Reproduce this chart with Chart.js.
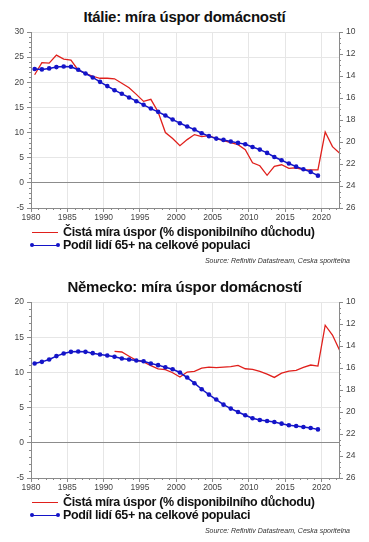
<!DOCTYPE html>
<html><head><meta charset="utf-8">
<script src="https://cdn.jsdelivr.net/npm/chart.js@4.4.1/dist/chart.umd.min.js"></script>
<style>
html,body{margin:0;padding:0;background:#fff;}
body{width:369px;height:542px;position:relative;overflow:hidden;font-family:"Liberation Sans",Arial,sans-serif;}
.panel{position:absolute;left:0;width:369px;height:271px;}
.title{position:absolute;left:0;width:369px;top:8px;text-align:center;font-weight:bold;font-size:15px;letter-spacing:-0.25px;line-height:18px;color:#111;}
.cv{position:absolute;left:0;top:0;}
.sw{position:absolute;left:32px;width:26px;height:0;}
.sw.red{border-top:1.5px solid #e0201c;}
.sw.blue{border-top:1.5px solid #1414c8;}
.dot{position:absolute;width:4px;height:4px;border-radius:50%;background:#1414c8;top:-3px;}
.lt{position:absolute;left:63px;font-weight:bold;font-size:12.5px;letter-spacing:-0.35px;line-height:15px;color:#111;white-space:nowrap;}
.src{position:absolute;right:19px;font-style:italic;font-size:7px;line-height:8px;color:#333;white-space:nowrap;}
</style>
</head><body>

<div class="panel" style="top:0">
  <div class="title">Itálie: míra úspor domácností</div>
  <canvas class="cv" id="c1" width="369" height="230"></canvas>
  <div class="sw red" style="top:232px"></div>
  <div class="lt" style="top:225px">Čistá míra úspor (% disponibilního důchodu)</div>
  <div class="sw blue" style="top:245px"><div class="dot" style="left:-2px"></div><div class="dot" style="left:24px"></div></div>
  <div class="lt" style="top:238px">Podíl lidí 65+ na celkové populaci</div>
  <div class="src" style="top:257px">Source: Refinitiv Datastream, Ceska sporitelna</div>
</div>

<div class="panel" style="top:270px">
  <div class="title">Německo: míra úspor domácností</div>
  <canvas class="cv" id="c2" width="369" height="230"></canvas>
  <div class="sw red" style="top:232px"></div>
  <div class="lt" style="top:225px">Čistá míra úspor (% disponibilního důchodu)</div>
  <div class="sw blue" style="top:245px"><div class="dot" style="left:-2px"></div><div class="dot" style="left:24px"></div></div>
  <div class="lt" style="top:238px">Podíl lidí 65+ na celkové populaci</div>
  <div class="src" style="top:257px">Source: Refinitiv Datastream, Ceska sporitelna</div>
</div>

<script>
// ---- data ----
const xTicks = [1980, 1985, 1990, 1995, 2000, 2005, 2010, 2015, 2020];
const rightTicks = [10, 12, 14, 16, 18, 20, 22, 24, 26];

// Italy: net household saving rate (% of disposable income), 1980-2022
const italySavingStart = 1980;
const italySaving = [21.5, 23.9, 23.8, 25.4, 24.6, 24.4, 22.4, 21.8, 21.2, 20.8,
  20.8, 20.7, 19.8, 18.9, 17.6, 16.2, 16.6, 14.1, 10.0, 8.8,
  7.4, 8.6, 9.6, 9.2, 9.4, 8.8, 8.4, 8.0, 7.6, 6.6,
  4.0, 3.4, 1.5, 3.3, 3.6, 2.9, 3.0, 2.6, 2.6, 2.6,
  10.1, 7.2, 5.9];
// Italy: share of population aged 65+ (%), 1980-2019
const italyOldStart = 1980;
const italyOld = [13.37, 13.40, 13.31, 13.19, 13.13, 13.16, 13.43, 13.77, 14.13, 14.53,
  14.92, 15.29, 15.62, 15.95, 16.29, 16.62, 16.96, 17.26, 17.59, 17.96,
  18.29, 18.59, 18.87, 19.20, 19.47, 19.69, 19.81, 19.96, 20.08, 20.20,
  20.45, 20.69, 20.99, 21.36, 21.66, 21.96, 22.24, 22.48, 22.72, 23.06];

// Germany: net household saving rate, 1991-2022
const germanySavingStart = 1991;
const germanySaving = [13.0, 12.9, 12.3, 11.7, 11.5, 10.95, 10.5, 10.4, 9.95,
  9.35, 10.05, 10.14, 10.6, 10.76, 10.67, 10.76, 10.81, 11.0, 10.52,
  10.43, 10.14, 9.76, 9.29, 9.9, 10.19, 10.29, 10.71, 11.05, 10.9,
  16.7, 15.3, 13.1];
// Germany: share of population aged 65+ (%), 1980-2019
const germanyOldStart = 1980;
const germanyOld = [15.59, 15.44, 15.23, 14.92, 14.68, 14.53, 14.50, 14.53, 14.65, 14.77,
  14.86, 14.98, 15.14, 15.23, 15.32, 15.38, 15.59, 15.74, 15.93, 16.11,
  16.41, 16.87, 17.38, 17.93, 18.42, 18.87, 19.33, 19.69, 20.00, 20.30,
  20.57, 20.73, 20.82, 20.91, 21.06, 21.21, 21.27, 21.36, 21.46, 21.58];

const seriesNames = ['Čistá míra úspor (% disponibilního důchodu)', 'Podíl lidí 65+ na celkové populaci'];

// annual values are plotted at mid-year
const MID = 0.5;
function toPoints(start, vals){ return vals.map((v,i)=>({x: start + i + MID, y: v})); }

const minorTicks = {
  id: 'minorTicks',
  afterDraw(chart){
    const ctx = chart.ctx, a = chart.chartArea;
    ctx.save();
    ctx.strokeStyle = '#8a8a8a';
    ctx.lineWidth = 1;
    ctx.beginPath();
    const sx = chart.scales.x;
    for (let v = Math.ceil(sx.min); v <= sx.max; v++) {
      if (v % 5 === 0) continue;
      const p = Math.round(sx.getPixelForValue(v)) + 0.5;
      ctx.moveTo(p, a.bottom); ctx.lineTo(p, a.bottom + 2);
    }
    const sy = chart.scales.y;
    for (let v = sy.min; v <= sy.max; v++) {
      if (v % 5 === 0) continue;
      const p = Math.round(sy.getPixelForValue(v)) + 0.5;
      ctx.moveTo(a.left - 2, p); ctx.lineTo(a.left, p);
    }
    const s2 = chart.scales.y2;
    for (let v = s2.min; v <= s2.max; v += 0.5) {
      if (v % 2 === 0) continue;
      const p = Math.round(s2.getPixelForValue(v)) + 0.5;
      ctx.moveTo(a.right, p); ctx.lineTo(a.right + 2, p);
    }
    ctx.stroke();
    ctx.restore();
  }
};

function makeChart(id, savStart, sav, oldStart, old, leftMin, leftMax){
  const tickFont = {family: '"Liberation Sans", Arial, sans-serif', size: 8.5};
  new Chart(document.getElementById(id), {
    type: 'line',
    data: {
      datasets: [
        {label: seriesNames[0], data: toPoints(savStart, sav), yAxisID: 'y',
         borderColor: '#e0201c', borderWidth: 1.3, pointRadius: 0, tension: 0, order: 2},
        {label: seriesNames[1], data: toPoints(oldStart, old), yAxisID: 'y2',
         borderColor: '#1414c8', borderWidth: 1.5, pointRadius: 2.3, pointBorderWidth: 0,
         pointBackgroundColor: '#1414c8', tension: 0, order: 1}
      ]
    },
    options: {
      responsive: false, animation: false,
      layout: {padding: {top: 32, left: 0, right: 0, bottom: 0}},
      plugins: {legend: {display: false}, tooltip: {enabled: false}, title: {display: false}},
      scales: {
        x: {
          type: 'linear', min: 1980, max: 2022.4,
          afterBuildTicks: s => { s.ticks = xTicks.map(v => ({value: v})); },
          afterFit: s => { s.height = 22; },
          ticks: {font: tickFont, color: '#444', maxRotation: 0, autoSkip: false, padding: 1,
                  callback: v => String(v)},
          grid: {color: '#e6e6e6', tickLength: 4, tickColor: '#8a8a8a'},
          border: {color: '#8a8a8a'}
        },
        y: {
          position: 'left', min: leftMin, max: leftMax,
          afterFit: s => { s.width = 31; },
          ticks: {stepSize: 5, font: tickFont, color: '#444', padding: 3},
          grid: {color: c => c.tick && c.tick.value === 0 ? '#8c8c8c' : '#e6e6e6',
                 tickLength: 4, tickColor: '#8a8a8a'},
          border: {color: '#8a8a8a'}
        },
        y2: {
          position: 'right', reverse: true, min: 10, max: 26,
          afterBuildTicks: s => { s.ticks = rightTicks.map(v => ({value: v})); },
          afterFit: s => { s.width = 30; },
          ticks: {font: tickFont, color: '#444', padding: 3},
          grid: {drawOnChartArea: false, tickLength: 4, tickColor: '#8a8a8a'},
          border: {color: '#8a8a8a'}
        }
      }
    },
    plugins: [minorTicks]
  });
}

makeChart('c1', italySavingStart, italySaving, italyOldStart, italyOld, -5, 30);
makeChart('c2', germanySavingStart, germanySaving, germanyOldStart, germanyOld, -5, 20);
</script>
</body></html>
